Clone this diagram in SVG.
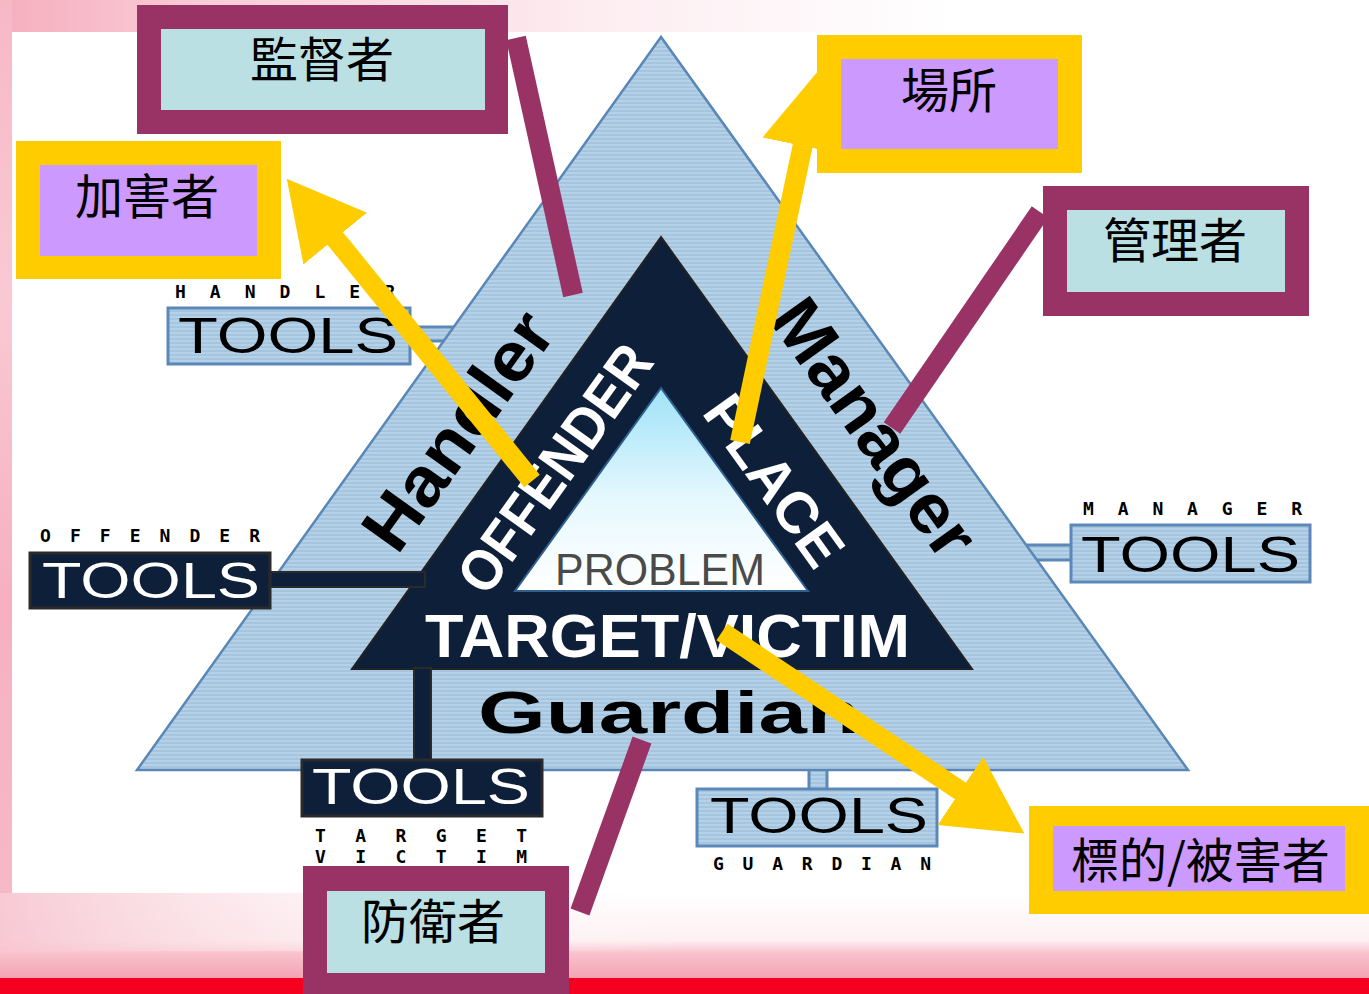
<svg xmlns="http://www.w3.org/2000/svg" width="1369" height="994" viewBox="0 0 1369 994">
<style>
.cjk{font-family:"Noto Sans CJK TC","Noto Sans CJK SC",sans-serif;font-size:48px;fill:#000}
.pix{font-family:"DejaVu Sans Mono",monospace;font-weight:bold;font-size:18px;fill:#000}
.tools{font-family:"Liberation Sans",Arial,sans-serif;font-size:50px}
.bold{font-family:"Liberation Sans",Arial,sans-serif;font-weight:bold}
.lightbox{fill:url(#stripes);stroke:#5b88b8;stroke-width:3}
.darkbox{fill:#0e1f3a;stroke:#2a2a2a;stroke-width:3}
.maroon{stroke:#993366;stroke-width:20;fill:none}
.yarrow{stroke:#ffcc00;stroke-width:20;fill:none;marker-end:url(#ah)}
</style>
<defs>
<pattern id="stripes" patternUnits="userSpaceOnUse" width="8" height="4">
<rect width="8" height="4" fill="#b4d1e7"/>
<rect y="2" width="8" height="2" fill="#a5c5de"/>
</pattern>
<linearGradient id="prob" x1="0" y1="0" x2="0" y2="1">
<stop offset="0" stop-color="#9fe2f8"/>
<stop offset="0.55" stop-color="#e6f8fe"/>
<stop offset="1" stop-color="#ffffff"/>
</linearGradient>
<linearGradient id="topband" x1="0" y1="0" x2="1" y2="0">
<stop offset="0" stop-color="#f6aebd"/>
<stop offset="0.15" stop-color="#f9cdd7"/>
<stop offset="0.45" stop-color="#fdeef2"/>
<stop offset="0.7" stop-color="#ffffff"/>
</linearGradient>
<linearGradient id="leftband" x1="0" y1="0" x2="0" y2="1">
<stop offset="0" stop-color="#f7b8c6"/>
<stop offset="0.3" stop-color="#f9c9d4"/>
<stop offset="0.6" stop-color="#f6b0c0"/>
<stop offset="1" stop-color="#f7bcc9"/>
</linearGradient>
<linearGradient id="bottomband" x1="0" y1="0" x2="0" y2="1">
<stop offset="0" stop-color="#ffffff"/>
<stop offset="0.55" stop-color="#fdf0f2"/>
<stop offset="0.7" stop-color="#f8c2cc"/>
<stop offset="1" stop-color="#f4a2b2"/>
</linearGradient>
<linearGradient id="bottomleft" x1="0" y1="0" x2="1" y2="0">
<stop offset="0" stop-color="#f7c4d0" stop-opacity="0.9"/>
<stop offset="0.2" stop-color="#fbe3e8" stop-opacity="0.6"/>
<stop offset="0.5" stop-color="#ffffff" stop-opacity="0"/>
</linearGradient>
<marker id="ah" markerUnits="userSpaceOnUse" markerWidth="78" markerHeight="84" viewBox="0 -42 78 84" refX="2" refY="0" orient="auto">
<path d="M0,-41 L77,0 L0,41 Z" fill="#ffcc00"/>
</marker>
</defs>

<g id="background">
<rect width="1369" height="994" fill="#ffffff"/>
<rect x="0" y="0" width="1369" height="32" fill="url(#topband)"/>
<rect x="0" y="0" width="12" height="994" fill="url(#leftband)"/>
<rect x="0" y="893" width="1369" height="86" fill="url(#bottomband)"/>
<rect x="0" y="893" width="1369" height="58" fill="url(#bottomleft)"/>
<rect x="0" y="978" width="1369" height="16" fill="#f5001e"/>
</g>

<g id="tool-tabs">
<rect x="400" y="327" width="60" height="14" class="lightbox"/>
<rect x="1020" y="545" width="60" height="15" class="lightbox"/>
<rect x="809" y="760" width="18" height="34" class="lightbox"/>
</g>

<g id="triangle">
<polygon points="661,37 137,770 1188,770" fill="url(#stripes)" stroke="#5a87b5" stroke-width="2.5"/>
<polygon points="661,237 352,669 972,669" fill="#0e1f3a" stroke="#222" stroke-width="2"/>
<polygon points="661,388 515,591 808,591" fill="url(#prob)" stroke="#2f5f8f" stroke-width="2"/>
<text class="bold" transform="translate(457,430) rotate(-54.4)" y="25" font-size="70" text-anchor="middle" textLength="275" lengthAdjust="spacingAndGlyphs" fill="#000">Handler</text>
<text class="bold" transform="translate(873,429) rotate(54.4)" y="22" font-size="70" text-anchor="middle" textLength="300" lengthAdjust="spacingAndGlyphs" fill="#000">Manager</text>
<text class="bold" transform="translate(554,468) rotate(-54.4)" y="21" font-size="58" text-anchor="middle" textLength="290" lengthAdjust="spacingAndGlyphs" fill="#fff">OFFENDER</text>
<text class="bold" transform="translate(775,480) rotate(54.4)" y="21" font-size="58" text-anchor="middle" textLength="196" lengthAdjust="spacingAndGlyphs" fill="#fff">PLACE</text>
<text x="555" y="585" font-family="Liberation Sans, Arial, sans-serif" font-size="45" textLength="210" lengthAdjust="spacingAndGlyphs" fill="#4a4a4a">PROBLEM</text>
<text class="bold" x="425" y="657" font-size="62" textLength="485" lengthAdjust="spacingAndGlyphs" fill="#fff">TARGET/VICTIM</text>
<text class="bold" x="478" y="733" font-size="60" textLength="382" lengthAdjust="spacingAndGlyphs" fill="#000">Guardian</text>
</g>

<g id="handler-tools">
<text class="pix" x="175" y="298" textLength="220" lengthAdjust="spacing">HANDLER</text>
<rect x="168" y="308" width="242" height="56" class="lightbox"/>
<text class="tools" x="178" y="353" textLength="220" lengthAdjust="spacingAndGlyphs" fill="#000">TOOLS</text>
</g>

<g id="offender-tools">
<rect x="265" y="572" width="160" height="15" fill="#0e1f3a" stroke="#2a2a2a" stroke-width="2"/>
<text class="pix" x="40" y="542" textLength="220" lengthAdjust="spacing">OFFENDER</text>
<rect x="30" y="553" width="240" height="55" class="darkbox"/>
<text class="tools" x="42" y="598" textLength="218" lengthAdjust="spacingAndGlyphs" fill="#fff">TOOLS</text>
</g>

<g id="manager-tools">
<text class="pix" x="1083" y="515" textLength="219" lengthAdjust="spacing">MANAGER</text>
<rect x="1071" y="525" width="239" height="57" class="lightbox"/>
<text class="tools" x="1081" y="572" textLength="219" lengthAdjust="spacingAndGlyphs" fill="#000">TOOLS</text>
</g>

<g id="target-tools">
<rect x="414" y="668" width="17" height="94" fill="#0e1f3a" stroke="#2a2a2a" stroke-width="2"/>
<rect x="302" y="760" width="240" height="56" class="darkbox"/>
<text class="tools" x="312" y="804" textLength="218" lengthAdjust="spacingAndGlyphs" fill="#fff">TOOLS</text>
<text class="pix" x="315" y="842" textLength="212" lengthAdjust="spacing">TARGET</text>
<text class="pix" x="315" y="863" textLength="212" lengthAdjust="spacing">VICTIM</text>
</g>

<g id="guardian-tools">
<rect x="697" y="789" width="240" height="57" class="lightbox"/>
<text class="tools" x="710" y="833" textLength="218" lengthAdjust="spacingAndGlyphs" fill="#000">TOOLS</text>
<text class="pix" x="713" y="870" textLength="218" lengthAdjust="spacing">GUARDIAN</text>
</g>

<g id="connectors">
<line x1="516" y1="38" x2="573" y2="295" class="maroon"/>
<line x1="1040" y1="212" x2="892" y2="428" class="maroon"/>
<line x1="642" y1="740" x2="580" y2="912" class="maroon"/>
<line x1="532" y1="481" x2="334" y2="237" class="yarrow"/>
<line x1="740" y1="442" x2="803" y2="144" class="yarrow"/>
<line x1="722" y1="632" x2="962" y2="792" class="yarrow"/>
</g>

<g id="node-supervisor">
<rect x="137" y="5" width="371" height="129" fill="#993366"/>
<rect x="161" y="29" width="324" height="81" fill="#bbe0e3"/>
<text class="cjk" x="250" y="77">監督者</text>
</g>

<g id="node-offender">
<rect x="16" y="141" width="265" height="138" fill="#ffcc00"/>
<rect x="40" y="165" width="217" height="91" fill="#cc99ff"/>
<text class="cjk" x="75" y="214">加害者</text>
</g>

<g id="node-place">
<rect x="817" y="35" width="265" height="138" fill="#ffcc00"/>
<rect x="841" y="59" width="217" height="90" fill="#cc99ff"/>
<text class="cjk" x="901" y="108">場所</text>
</g>

<g id="node-manager">
<rect x="1043" y="186" width="266" height="130" fill="#993366"/>
<rect x="1067" y="210" width="218" height="82" fill="#bbe0e3"/>
<text class="cjk" x="1103" y="258">管理者</text>
</g>

<g id="node-guardian">
<rect x="303" y="866" width="266" height="128" fill="#993366"/>
<rect x="327" y="891" width="218" height="82" fill="#bbe0e3"/>
<text class="cjk" x="361" y="939">防衛者</text>
</g>

<g id="node-victim">
<rect x="1029" y="806" width="340" height="108" fill="#ffcc00"/>
<rect x="1053" y="826" width="292" height="65" fill="#cc99ff"/>
<text class="cjk" x="1071" y="878">標的/被害者</text>
</g>
</svg>
